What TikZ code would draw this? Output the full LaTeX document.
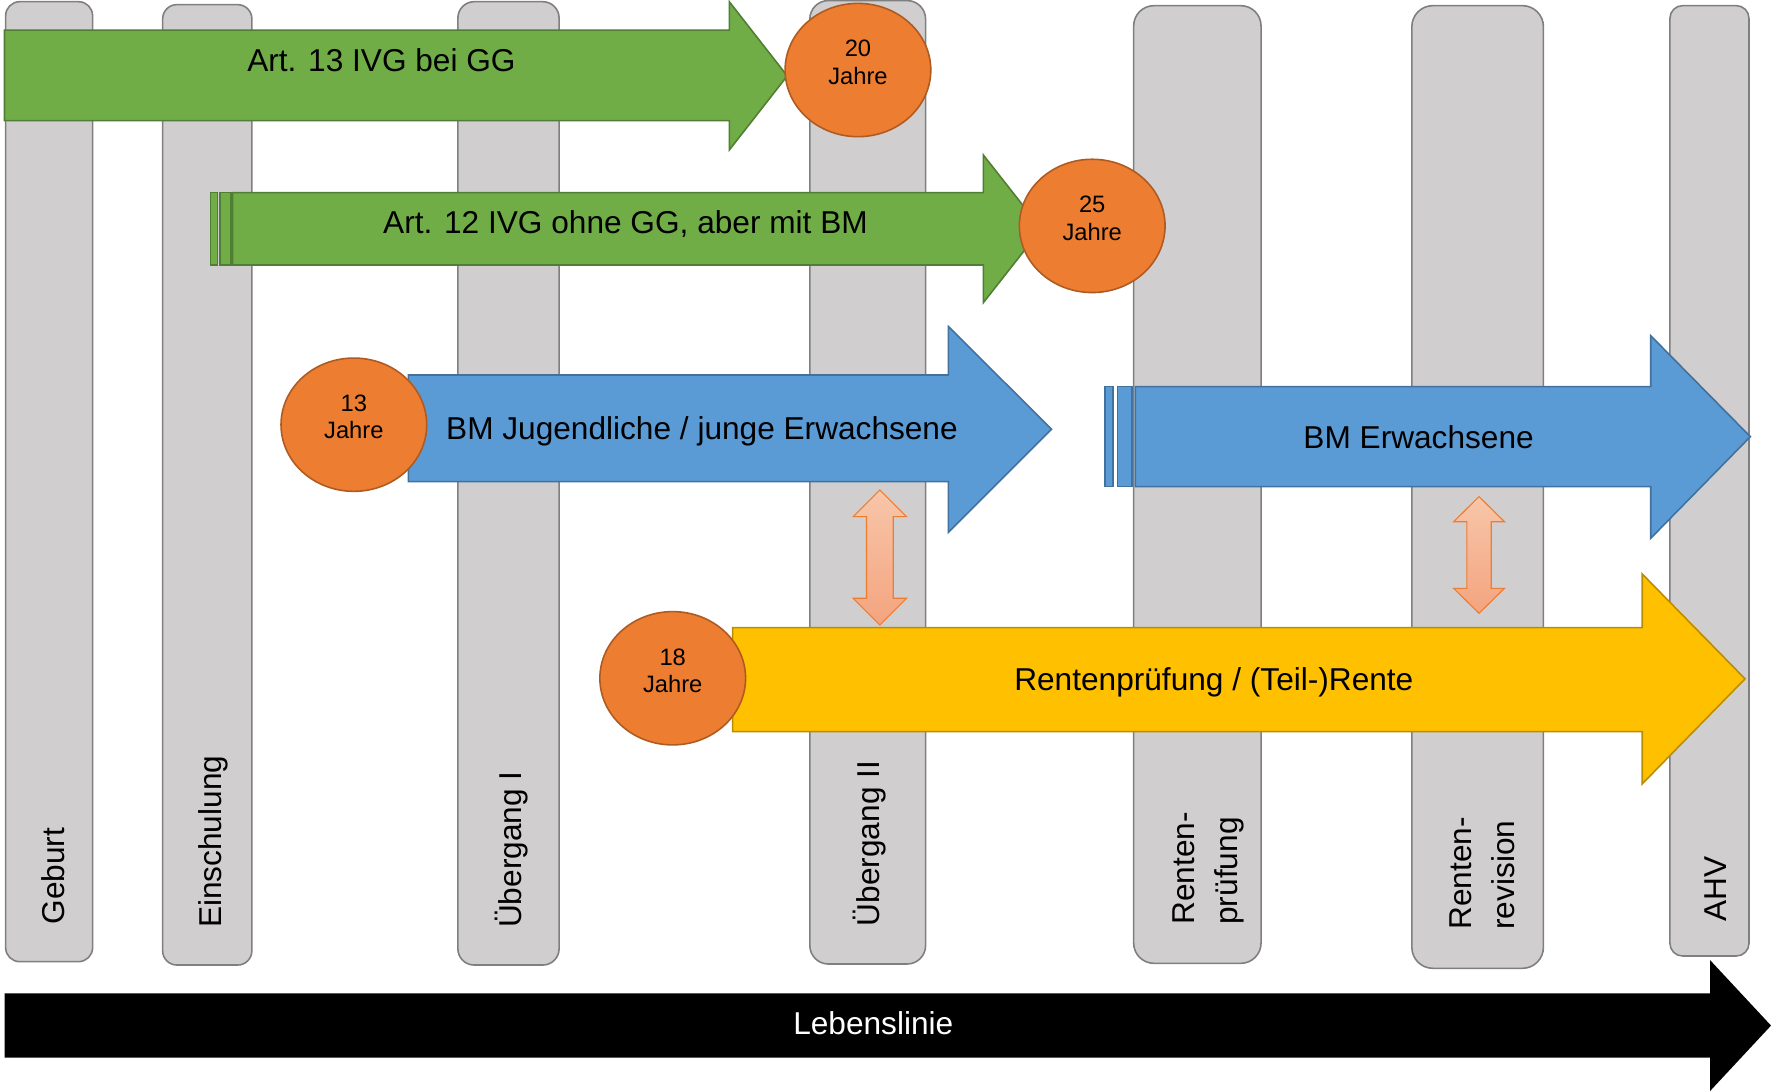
\documentclass[tikz,border=0pt]{standalone}
\usepackage{fontspec}
\setmainfont{Liberation Sans}
\usetikzlibrary{shapes.geometric}
\definecolor{barfill}{HTML}{D0CECE}
\definecolor{barline}{HTML}{7F7F7F}
\definecolor{grfill}{HTML}{70AD47}
\definecolor{grline}{HTML}{507E32}
\definecolor{orfill}{HTML}{ED7D31}
\definecolor{orline}{HTML}{AE5A21}
\definecolor{blfill}{HTML}{5B9BD5}
\definecolor{blline}{HTML}{41719C}
\definecolor{yefill}{HTML}{FFC000}
\definecolor{yeline}{HTML}{BC8C00}
\definecolor{dtop}{HTML}{F7C6A9}
\definecolor{dbot}{HTML}{F4A47F}
\begin{document}
\begin{tikzpicture}[x=0.5pt,y=-0.5pt,
  bar/.style={fill=barfill,draw=barline,line width=0.7pt},
  grarrow/.style={fill=grfill,draw=grline,line width=0.7pt},
  blarrow/.style={fill=blfill,draw=blline,line width=0.7pt},
  yearrow/.style={fill=yefill,draw=yeline,line width=0.7pt},
  lifearrow/.style={fill=black},
  dblarrow/.style={top color=dtop,bottom color=dbot,draw=orfill,line width=0.5pt},
  agecirc/.style={ellipse,fill=orfill,draw=orline,line width=0.7pt,
    minimum width=64.5pt,minimum height=59pt,inner sep=0pt,
    align=center,font=\fontsize{10.5}{12.1}\selectfont,text depth=6.9pt},
  arrtext/.style={anchor=base,inner sep=0pt,font=\fontsize{14}{16.8}\selectfont},
  vlabel/.style={rotate=90,inner sep=0pt,align=left,font=\fontsize{14}{19}\selectfont}
]
\useasboundingbox (0,0) rectangle (1568,966);

% vertical milestone bars
\draw[bar,rounded corners=6.2pt] (5,1.5) rectangle (82,851.4);
\draw[bar,rounded corners=6.3pt] (144,4.1) rectangle (223,854.4);
\draw[bar,rounded corners=7.2pt] (405.4,1.5) rectangle (495,854.4);
\draw[bar,rounded corners=8.2pt] (717,0.5) rectangle (819.5,853.5);
\draw[bar,rounded corners=9pt] (1003.7,5) rectangle (1116.5,852.9);
\draw[bar,rounded corners=9.3pt] (1250,5) rectangle (1366.5,857.3);
\draw[bar,rounded corners=5.6pt] (1478.5,5) rectangle (1548.5,846.4);

% bar labels
\node[vlabel,anchor=base west] (lgeburt) at (57,819) {Geburt};
\node[vlabel,anchor=base west] (leinsch) at (196,822) {Einschulung};
\node[vlabel,anchor=base west] (luebI) at (461.6,822) {Übergang I};
\node[vlabel,anchor=base west] (luebII) at (779,820.4) {Übergang II};
\node[vlabel,anchor=north west] (lrpruef) at (1038,819) {Renten-\\prüfung};
\node[vlabel,anchor=north west] (lrrev) at (1283,823.4) {Renten-\\revision};
\node[vlabel,anchor=base west] (lahv) at (1528.7,816) {AHV};

% Art. 13 arrow
\draw[grarrow] (4,26.6) -- (645.7,26.6) -- (645.7,1.5) -- (697,67.2) -- (645.7,132.8) -- (645.7,106.8) -- (4,106.8) -- cycle;
\node[arrtext] (t13) at (337.7,63.5) {Art. 13 IVG bei GG};

% Art. 12 arrow
\draw[grarrow] (186.4,170.6) rectangle (192.4,234.6);
\draw[grarrow] (194.8,170.6) rectangle (204.3,234.6);
\draw[grarrow] (206,170.6) -- (870.6,170.6) -- (870.6,137.2) -- (922,202.6) -- (870.6,268) -- (870.6,234.6) -- (206,234.6) -- cycle;
\node[arrtext] (t12) at (553.8,206.6) {Art. 12 IVG ohne GG, aber mit BM};

% BM Jugendliche arrow
\draw[blarrow] (361.5,332) -- (839.6,332) -- (839.6,289) -- (931,380) -- (839.6,471.3) -- (839.6,426.4) -- (361.5,426.4) -- cycle;
\node[arrtext] (tbmj) at (621.5,389) {BM Jugendliche / junge Erwachsene};

% BM Erwachsene arrow
\draw[blarrow] (978.5,342.3) rectangle (985.6,430.9);
\draw[blarrow] (989.5,342.3) rectangle (1002,430.9);
\draw[blarrow] (1005.2,342.3) -- (1461.5,342.3) -- (1461.5,297.2) -- (1549.7,386.6) -- (1461.5,476.6) -- (1461.5,430.9) -- (1005.2,430.9) -- cycle;
\node[arrtext] (tbme) at (1256,397) {BM Erwachsene};

% Rente arrow
\draw[yearrow] (648.7,555.7) -- (1454,555.7) -- (1454,508.2) -- (1545,601) -- (1454,694) -- (1454,647.8) -- (648.7,647.8) -- cycle;
\node[arrtext] (trente) at (1074.7,611.5) {Rentenprüfung / (Teil-)Rente};

% double arrows
\draw[dblarrow] (779,433.8) -- (802.6,457.4) -- (790.8,457.4) -- (790.8,529.7) -- (802.6,529.7) -- (779,553.4) -- (755.4,529.7) -- (767.2,529.7) -- (767.2,457.4) -- (755.4,457.4) -- cycle;
\draw[dblarrow] (1309.5,439.7) -- (1332,461.9) -- (1320.3,461.9) -- (1320.3,520.9) -- (1332,520.9) -- (1309.5,543) -- (1287,520.9) -- (1298.7,520.9) -- (1298.7,461.9) -- (1287,461.9) -- cycle;

% age circles
\node[agecirc] (c20) at (759.6,62) {20\\Jahre};
\node[agecirc] (c25) at (967,200) {25\\Jahre};
\node[agecirc] (c13) at (313.3,376) {13\\Jahre};
\node[agecirc] (c18) at (595.6,600.5) {18\\Jahre};

% life line
\fill[lifearrow] (4,879.4) -- (1514,879.4) -- (1514,850) -- (1568,908) -- (1514,966) -- (1514,936.4) -- (4,936.4) -- cycle;
\node[arrtext,text=white] (tlife) at (773.2,916.3) {Lebenslinie};
\end{tikzpicture}
\end{document}
